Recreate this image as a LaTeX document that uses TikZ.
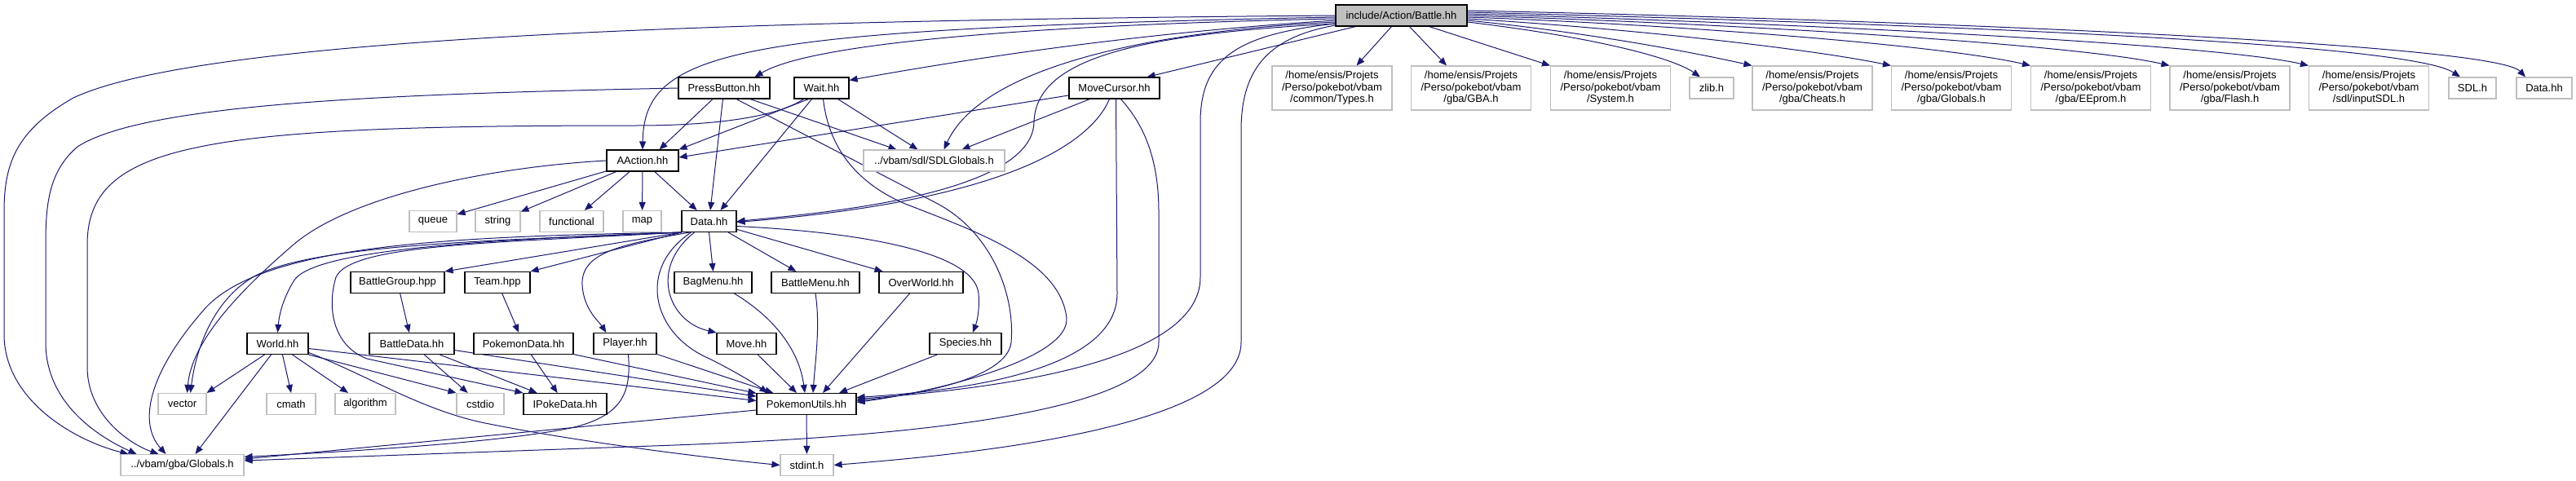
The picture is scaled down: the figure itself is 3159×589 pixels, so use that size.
\documentclass[tikz,border=0pt]{standalone}
\usepackage{fontspec}
\setmainfont{Liberation Sans}
\usetikzlibrary{arrows.meta}
\definecolor{edgecol}{HTML}{191970}
\definecolor{extline}{HTML}{BFBFBF}
\definecolor{rootfill}{HTML}{BFBFBF}
\pgfdeclarelayer{edgelayer}
\pgfsetlayers{edgelayer,main}
\begin{document}
\begin{tikzpicture}[x=0.5pt,y=-0.5pt,
 nbase/.style={rectangle,inner sep=0pt,minimum height=13pt,align=center,font=\fontsize{6.5}{7.25}\selectfont,text=black},
 docnode/.style={nbase,draw=black,line width=0.55pt,fill=white},
 extnode/.style={nbase,draw=extline,line width=0.55pt,fill=white},
 rootnode/.style={nbase,draw=black,line width=0.55pt,fill=rootfill},
 tallnode/.style={minimum height=27pt},
 dep/.style={draw=edgecol,line width=0.5pt,-{Triangle[length=5pt,width=4pt]}}]
\useasboundingbox (0,0) rectangle (3159,589);

% row 0
\node[rootnode,minimum width=80.5pt] (battle) at (1718.5,19) {include/Action/Battle.hh};
% row 1
\node[docnode,minimum width=56pt] (press) at (888,108) {PressButton.hh};
\node[docnode,minimum width=33.5pt] (wait) at (1007.5,108) {Wait.hh};
\node[docnode,minimum width=55.5pt] (movec) at (1366.5,108) {MoveCursor.hh};
\node[extnode,tallnode,minimum width=73.5pt] (types) at (1633.5,108) {/home/ensis/Projets\\/Perso/pokebot/vbam\\/common/Types.h};
\node[extnode,tallnode,minimum width=73.5pt] (gba) at (1804,108) {/home/ensis/Projets\\/Perso/pokebot/vbam\\/gba/GBA.h};
\node[extnode,tallnode,minimum width=73.5pt] (system) at (1975,108) {/home/ensis/Projets\\/Perso/pokebot/vbam\\/System.h};
\node[extnode,minimum width=27pt] (zlib) at (2099,108) {zlib.h};
\node[extnode,tallnode,minimum width=73.5pt] (cheats) at (2222.5,108) {/home/ensis/Projets\\/Perso/pokebot/vbam\\/gba/Cheats.h};
\node[extnode,tallnode,minimum width=73.5pt] (gglobtwo) at (2393,108) {/home/ensis/Projets\\/Perso/pokebot/vbam\\/gba/Globals.h};
\node[extnode,tallnode,minimum width=73.5pt] (eeprom) at (2564,108) {/home/ensis/Projets\\/Perso/pokebot/vbam\\/gba/EEprom.h};
\node[extnode,tallnode,minimum width=73.5pt] (flash) at (2734.5,108) {/home/ensis/Projets\\/Perso/pokebot/vbam\\/gba/Flash.h};
\node[extnode,tallnode,minimum width=73.5pt] (inputsdl) at (2905,108) {/home/ensis/Projets\\/Perso/pokebot/vbam\\/sdl/inputSDL.h};
\node[extnode,minimum width=29pt] (sdl) at (3032,108) {SDL.h};
\node[extnode,minimum width=34pt] (datagray) at (3120,108) {Data.hh};
% row 2
\node[docnode,minimum width=44pt] (aaction) at (788,197) {AAction.hh};
\node[extnode,minimum width=86.5pt] (sdlglob) at (1145.5,197) {../vbam/sdl/SDLGlobals.h};
% row 3
\node[extnode,minimum width=29pt] (queue) at (531,271.5) {queue};
\node[extnode,minimum width=27.5pt] (string) at (610.5,271.5) {string};
\node[extnode,minimum width=39pt] (functional) at (701,271.5) {functional};
\node[extnode,minimum width=23.5pt] (map) at (787.5,271.5) {map};
\node[docnode,minimum width=33.5pt] (data) at (869.5,271.5) {Data.hh};
% row 4
\node[docnode,minimum width=57.5pt] (bgroup) at (487.5,346.5) {BattleGroup.hpp};
\node[docnode,minimum width=40pt] (team) at (610,346.5) {Team.hpp};
\node[docnode,minimum width=47.5pt] (bagmenu) at (874.5,346.5) {BagMenu.hh};
\node[docnode,minimum width=54pt] (battlemenu) at (1000,346.5) {BattleMenu.hh};
\node[docnode,minimum width=51.5pt] (overworld) at (1129.5,346.5) {OverWorld.hh};
% row 5
\node[docnode,minimum width=37.5pt] (world) at (340.5,421.5) {World.hh};
\node[docnode,minimum width=52pt] (bdata) at (505,421.5) {BattleData.hh};
\node[docnode,minimum width=61pt] (pdata) at (642,421.5) {PokemonData.hh};
\node[docnode,minimum width=38.5pt] (player) at (766.5,421.5) {Player.hh};
\node[docnode,minimum width=36.5pt] (move) at (915.5,421.5) {Move.hh};
\node[docnode,minimum width=44pt] (species) at (1184,421.5) {Species.hh};
% row 6
\node[extnode,minimum width=29.5pt] (vector) at (223.5,495.5) {vector};
\node[extnode,minimum width=30pt] (cmath) at (357,495.5) {cmath};
\node[extnode,minimum width=37pt] (algorithm) at (448,495.5) {algorithm};
\node[extnode,minimum width=29pt] (cstdio) at (589,495.5) {cstdio};
\node[docnode,minimum width=51pt] (ipoke) at (693,495.5) {IPokeData.hh};
\node[docnode,minimum width=61pt] (putils) at (989,495.5) {PokemonUtils.hh};
% row 7
\node[extnode,minimum width=75.5pt] (gglob) at (223.5,570.5) {../vbam/gba/Globals.h};
\node[extnode,minimum width=32.5pt] (stdint) at (989.5,570.5) {stdint.h};

\begin{pgfonlayer}{edgelayer}
% Battle.hh, left side
\draw[dep] (battle.west) .. controls (900,25) and (250,45) .. (90,120) .. controls (20,160) and (5,200) .. (5,260) -- (5,410) .. controls (5,490) and (90,540) .. ([xshift=5pt]gglob.north west);
\draw[dep] ([yshift=-1pt]battle.west) .. controls (900,36) and (790,60) .. (aaction.north);
\draw[dep] ([yshift=-2pt]battle.west) .. controls (1300,30) and (1000,50) .. ([xshift=-9.5pt]press.north east);
\draw[dep] ([yshift=-3pt]battle.west) .. controls (1400,40) and (1200,70) .. ([yshift=-2pt]wait.north east);
\draw[dep] ([xshift=-28pt]battle.south) -- ([xshift=-8pt]movec.north east);
\draw[dep] ([yshift=-4pt]battle.west) .. controls (1380,40) and (1200,90) .. ([xshift=6pt]sdlglob.north);
\draw[dep] ([yshift=-5pt]battle.west) .. controls (1400,42) and (1270,70) .. (1268,150) .. controls (1266,240) and (1000,262) .. (data.east);
\draw[dep] ([yshift=-5pt]battle.west) .. controls (1520,42) and (1472,70) .. (1472,150) -- (1472,340) .. controls (1472,450) and (1200,478) .. ([yshift=3pt]putils.east);
\draw[dep] ([yshift=-6pt]battle.west) .. controls (1560,45) and (1522,80) .. (1522,160) -- (1522,420) .. controls (1522,530) and (1150,560) .. (stdint.east);
% Battle.hh, right side
\draw[dep] ([xshift=-6pt]battle.south) -- ([xshift=15pt]types.north);
\draw[dep] ([xshift=5pt]battle.south) -- ([xshift=-15pt]gba.north);
\draw[dep] ([xshift=17pt]battle.south) -- (system.north west);
\draw[dep] ([yshift=-4pt]battle.east) .. controls (1950,45) and (2050,70) .. ([xshift=-7pt]zlib.north);
\draw[dep] ([yshift=-3pt]battle.east) .. controls (1950,40) and (2080,65) .. (cheats.north west);
\draw[dep] ([yshift=-2pt]battle.east) .. controls (2000,35) and (2220,60) .. (gglobtwo.north west);
\draw[dep] ([yshift=-1pt]battle.east) .. controls (2050,30) and (2380,55) .. (eeprom.north west);
\draw[dep] (battle.east) .. controls (2150,30) and (2550,55) .. (flash.north west);
\draw[dep] ([yshift=1pt]battle.east) .. controls (2250,30) and (2720,55) .. (inputsdl.north west);
\draw[dep] ([yshift=2pt]battle.east) .. controls (2300,28) and (2950,50) .. ([xshift=-7.5pt]sdl.north);
\draw[dep] ([yshift=3pt]battle.east) .. controls (2400,26) and (3060,55) .. ([xshift=-11.5pt]datagray.north);
% PressButton.hh
\draw[dep] (press.west) .. controls (500,115) and (180,125) .. (95,180) .. controls (60,210) and (56,250) .. (56,300) -- (56,420) .. controls (56,500) and (130,540) .. ([xshift=10pt]gglob.north west);
\draw[dep] ([xshift=-7pt]press.south) -- ([xshift=-12pt]aaction.north east);
\draw[dep] (press) -- (data);
\draw[dep] ([xshift=16pt]press.south) -- ([xshift=-23pt]sdlglob.north);
\draw[dep] ([xshift=7.5pt]press.south) -- (1150,250) .. controls (1215,285) and (1245,360) .. (1240,420) .. controls (1235,465) and (1120,485) .. ([yshift=2pt]putils.east);
% Wait.hh
\draw[dep] ([xshift=6pt]wait.south west) .. controls (950,145) and (870,154) .. (780,154) .. controls (250,154) and (107,175) .. (107,300) -- (107,450) .. controls (107,510) and (160,545) .. ([xshift=23.5pt]gglob.north west);
\draw[dep] ([xshift=-8pt]wait.south) -- (aaction.north east);
\draw[dep] ([xshift=-6pt]wait.south) -- ([xshift=-10pt]data.north east);
\draw[dep] ([xshift=10pt]wait.south) -- ([xshift=-10pt]sdlglob.north);
\draw[dep] ([xshift=1pt]wait.south) .. controls (1015,170) and (1040,220) .. (1110,250) .. controls (1200,285) and (1300,320) .. (1308,390) .. controls (1312,440) and (1150,480) .. ([yshift=1pt]putils.east);
% MoveCursor.hh
\draw[dep] ([yshift=-4.5pt]movec.west) -- ([yshift=2pt]aaction.east);
\draw[dep] ([xshift=-15pt]movec.south) -- ([xshift=17pt]sdlglob.north);
\draw[dep] ([xshift=-3pt]movec.south) .. controls (1340,170) and (1250,245) .. ([yshift=-0.5pt]data.east);
\draw[dep] ([xshift=1pt]movec.south) -- (1370,360) .. controls (1370,450) and (1200,478) .. ([yshift=4pt]putils.east);
\draw[dep] ([xshift=4pt]movec.south) .. controls (1400,150) and (1421,190) .. (1421,260) -- (1421,420) .. controls (1421,520) and (1000,540) .. (800,547) -- ([yshift=2.75pt]gglob.east);
% AAction.hh
\draw[dep] (aaction) -- (queue);
\draw[dep] (aaction) -- (string);
\draw[dep] (aaction) -- (functional);
\draw[dep] (aaction) -- (map);
\draw[dep] (aaction) -- (data);
\draw[dep] (aaction.west) .. controls (600,205) and (430,240) .. (360,300) .. controls (290,360) and (235,420) .. ([xshift=3pt]vector.north);
% Data.hh
\draw[dep] (data.south west) .. controls (600,295) and (380,300) .. (310,340) .. controls (260,370) and (240,430) .. ([xshift=5pt]vector.north);
\draw[dep] (data.south west) .. controls (550,290) and (320,300) .. (250,380) .. controls (180,460) and (170,520) .. ([xshift=28pt]gglob.north west);
\draw[dep] (data.south west) .. controls (550,295) and (380,310) .. (360,345) .. controls (345,370) and (342,390) .. (world.north);
\draw[dep] (data.south west) .. controls (600,298) and (430,300) .. (412,340) .. controls (400,380) and (410,425) .. (450,440) -- (ipoke.north west);
\draw[dep] (data.south west) -- (bgroup.north east);
\draw[dep] (data.south west) -- (team.north east);
\draw[dep] ([xshift=-12pt]data.south) .. controls (760,300) and (712,310) .. (714,350) .. controls (716,380) and (735,395) .. ([xshift=8pt]player.north west);
\draw[dep] ([xshift=-9pt]data.south) .. controls (795,330) and (820,395) .. (move.north west);
\draw[dep] ([xshift=-11pt]data.south) .. controls (780,330) and (800,410) .. (870,440) .. controls (900,455) and (925,470) .. ([xshift=7pt]putils.north west);
\draw[dep] (data.south) -- (bagmenu.north);
\draw[dep] (data) -- (battlemenu);
\draw[dep] (data) -- (overworld);
\draw[dep] ([yshift=-3pt]data.east) .. controls (1060,285) and (1195,310) .. (1200,360) .. controls (1202,385) and (1196,400) .. ([xshift=4.5pt]species.north);
% World.hh
\draw[dep] ([xshift=-8pt]world.south) -- (vector.north east);
\draw[dep] ([xshift=-4pt]world.south) -- ([xshift=46pt]gglob.north west);
\draw[dep] ([xshift=3pt]world.south) -- (cmath.north);
\draw[dep] ([xshift=9pt]world.south) -- ([xshift=-10.5pt]algorithm.north);
\draw[dep] (world.south east) -- (cstdio.north west);
\draw[dep] ([yshift=-3pt]world.east) -- ([yshift=2pt]putils.west);
\draw[dep] ([yshift=-5.5pt]world.east) .. controls (450,460) and (520,505) .. (600,520) .. controls (700,540) and (850,560) .. (stdint.west);
% others
\draw[dep] (bgroup) -- (bdata);
\draw[dep] (team) -- (pdata);
\draw[dep] (bdata) -- (cstdio);
\draw[dep] (bdata) -- (ipoke);
\draw[dep] (bdata) -- (putils);
\draw[dep] (pdata) -- (ipoke);
\draw[dep] (pdata) -- (putils);
\draw[dep] (player) -- (putils);
\draw[dep] ([xshift=2pt]player.south) .. controls (774,480) and (765,510) .. (700,525) .. controls (600,545) and (400,555) .. ([yshift=5pt]gglob.east);
\draw[dep] (move) -- ([xshift=-6pt]putils.north);
\draw[dep] ([xshift=13pt]bagmenu.south) .. controls (950,390) and (980,430) .. ([xshift=-1pt]putils.north);
\draw[dep] (battlemenu.south) .. controls (1006,400) and (1000,440) .. ([xshift=4pt]putils.north);
\draw[dep] ([xshift=-7pt]overworld.south) -- ([xshift=10pt]putils.north);
\draw[dep] (species) -- ([xshift=20pt]putils.north);
\draw[dep] (putils) -- (stdint);
\draw[dep] ([yshift=-3.75pt]putils.west) -- ([yshift=3.75pt]gglob.east);
\end{pgfonlayer}
\end{tikzpicture}
\end{document}
